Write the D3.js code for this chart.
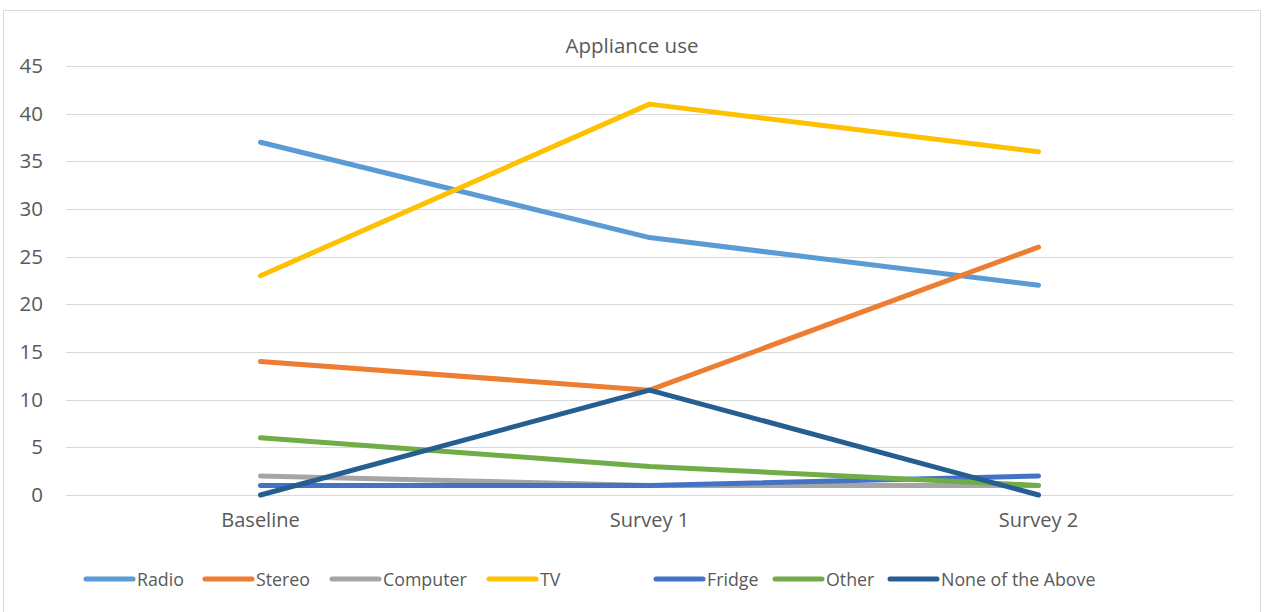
<!DOCTYPE html>
<html>
<head>
<meta charset="utf-8">
<script src="https://cdn.jsdelivr.net/npm/d3@7"></script>
<style>
  body { margin: 0; background: #fff; }
  svg text { font-family: "Open Sans", "Noto Sans", sans-serif; fill: #595959; }
</style>
</head>
<body>
<svg id="chart" width="1266" height="612"></svg>
<script>
// Survey rounds
const categories = ["Baseline", "Survey 1", "Survey 2"];

// Number of respondents using each appliance
const radio    = [37, 27, 22];
const stereo   = [14, 11, 26];
const computer = [2, 1, 1];
const tv       = [23, 41, 36];
const fridge   = [1, 1, 2];
const other    = [6, 3, 1];
const noneAbove = [0, 11, 0];

const seriesNames  = ["Radio", "Stereo", "Computer", "TV", "Fridge", "Other", "None of the Above"];
const seriesValues = [radio, stereo, computer, tv, fridge, other, noneAbove];
const seriesColors = ["#5B9BD5", "#ED7D31", "#A5A5A5", "#FFC000", "#4472C4", "#70AD47", "#255E91"];

const yTicks = [0, 5, 10, 15, 20, 25, 30, 35, 40, 45];

const FONT = '"Open Sans", "Noto Sans", sans-serif';
const svg = d3.select("#chart");

// chart frame
svg.append("rect")
  .attr("x", 3.5).attr("y", 10.5)
  .attr("width", 1257).attr("height", 610)
  .attr("fill", "none").attr("stroke", "#d9d9d9").attr("stroke-width", 1);

const plot = { left: 66, right: 1233, top: 66, bottom: 495 };

const x = d3.scaleBand().domain(categories).range([plot.left, plot.right]);
const y = d3.scaleLinear().domain([0, 45]).range([plot.bottom, plot.top]);

// gridlines
svg.append("g").selectAll("line").data(yTicks).join("line")
  .attr("x1", plot.left).attr("x2", plot.right)
  .attr("y1", d => Math.round(y(d)) + 0.5).attr("y2", d => Math.round(y(d)) + 0.5)
  .attr("stroke", "#d9d9d9").attr("stroke-width", 1);

// y axis labels
const yAxis = d3.axisLeft(y).tickValues(yTicks).tickSize(0).tickPadding(0);
const gy = svg.append("g").attr("transform", "translate(43,0)").call(yAxis);
gy.select(".domain").remove();
gy.selectAll("text").attr("font-size", 20.5).style("font-family", FONT).attr("fill", "#595959");

// x axis labels
const xAxis = d3.axisBottom(x).tickSize(0).tickPadding(0);
const gx = svg.append("g").attr("transform", "translate(0,513)").call(xAxis);
gx.select(".domain").remove();
gx.selectAll("text").attr("font-size", 20).style("font-family", FONT).attr("fill", "#595959");

// title
svg.append("text")
  .attr("x", 632).attr("y", 53)
  .attr("text-anchor", "middle")
  .attr("font-size", 20.5)
  .text("Appliance use");

// series lines
const line = d3.line()
  .x((d, i) => x(categories[i]) + x.bandwidth() / 2)
  .y(d => y(d));

svg.append("g").selectAll("path").data(seriesValues).join("path")
  .attr("d", d => line(d))
  .attr("fill", "none")
  .attr("stroke", (d, i) => seriesColors[i])
  .attr("stroke-width", 5)
  .attr("stroke-linecap", "round")
  .attr("stroke-linejoin", "round");

// legend
const legendX = [86, 205, 332, 489, 656, 775, 890];
const lg = svg.append("g").selectAll("g").data(seriesNames).join("g")
  .attr("transform", (d, i) => `translate(${legendX[i]},579)`);
lg.append("line")
  .attr("x1", 0).attr("x2", 47).attr("y1", 0).attr("y2", 0)
  .attr("stroke", (d, i) => seriesColors[i])
  .attr("stroke-width", 5).attr("stroke-linecap", "round");
lg.append("text")
  .attr("x", 51).attr("y", 7)
  .attr("font-size", 17.8)
  .text(d => d);
</script>
</body>
</html>
